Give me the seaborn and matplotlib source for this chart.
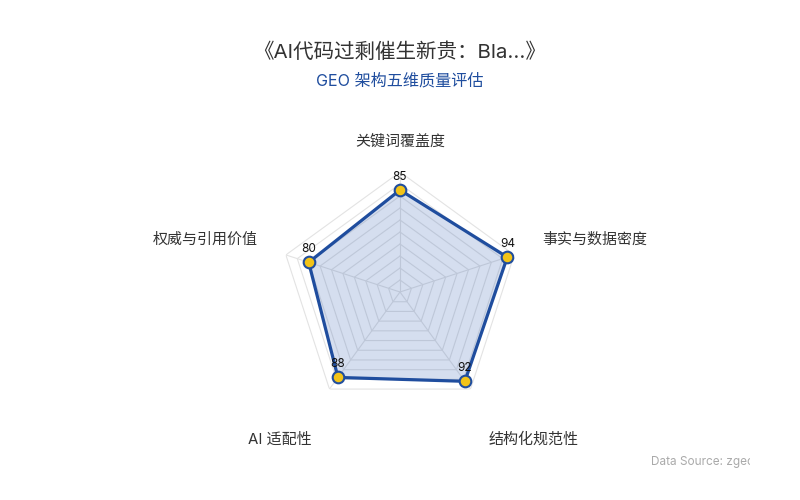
import numpy as np
import pandas as pd
import matplotlib
matplotlib.use("Agg")
import matplotlib.pyplot as plt
import seaborn as sns
from matplotlib.transforms import Bbox

dimensions = ["关键词覆盖度", "事实与数据密度", "结构化规范性", "AI 适配性", "权威与引用价值"]
scores = [85, 94, 92, 88, 80]
levels = [10, 20, 30, 40, 50, 60, 70, 80, 90, 100]

sns.set_style("white")
plt.rcParams['font.family'] = ['Inter', 'Noto Sans CJK SC', 'DejaVu Sans']

df = pd.DataFrame({"dim": dimensions, "score": scores})
n = len(df)
df["theta"] = np.arange(n) * 2 * np.pi / n

fig = plt.figure(figsize=(8, 5), dpi=100)
ax = fig.add_axes([0.35, 0.176, 0.3, 0.48], projection="polar")
ax.set_theta_zero_location("N")
ax.set_theta_direction(-1)
ax.set_ylim(0, 100)
ax.grid(False)
ax.spines["polar"].set_visible(False)

closed = np.append(df["theta"].values, df["theta"].values[0])

# polygon grid + spokes
for lv in levels:
    ax.plot(closed, [lv] * (n + 1), color="#e3e3e3", lw=0.8, zorder=1)
for t in df["theta"]:
    ax.plot([t, t], [0, 100], color="#e3e3e3", lw=0.8, zorder=1)

vals = np.append(df["score"].values, df["score"].values[0])
ax.fill(closed, vals, color="#2d5bb0", alpha=0.2, zorder=2, lw=0)
ax.plot(closed, vals, color="#1f4d9e", lw=2.3, zorder=3)
sns.scatterplot(data=df, x="theta", y="score", ax=ax, s=70, color="#f2c318",
                edgecolor="#1f4d9e", linewidth=1.5, zorder=4, legend=False)
ax.set_xlabel("")
ax.set_ylabel("")
ax.set_xticks([])
ax.set_yticks([])

for t, v in zip(df["theta"], df["score"]):
    ax.annotate(str(v), xy=(t, v), xytext=(0, 7), textcoords="offset pixels",
                ha="center", va="bottom", fontsize=8.5, color="#111111", zorder=5)

# axis names
name_style = [("center", 0), ("left", 6), ("left", -26), ("right", -26), ("right", 6)]
for (ha, dy), t, name in zip(name_style, df["theta"], df["dim"]):
    ax.annotate(name, xy=(t, 125), xytext=(0, dy), textcoords="offset pixels",
                ha=ha, va="center", fontsize=10.8, color="#333333",
                annotation_clip=False)

fig.text(0.5, 0.896, "《AI代码过剩催生新贵：Bla...》", ha="center", va="center",
         fontsize=14.8, color="#333333")
fig.text(0.5, 0.838, "GEO 架构五维质量评估", ha="center", va="center",
         fontsize=11.6, color="#1f4d9e")
src = fig.text(0.814, 0.076, "Data Source: zgeo", ha="left", va="center",
               fontsize=8.5, color="#aaaaaa")
src.set_clip_box(Bbox([[0, 0], [750, 500]]))
src.set_clip_on(True)

fig.savefig("out.png", dpi=100)
